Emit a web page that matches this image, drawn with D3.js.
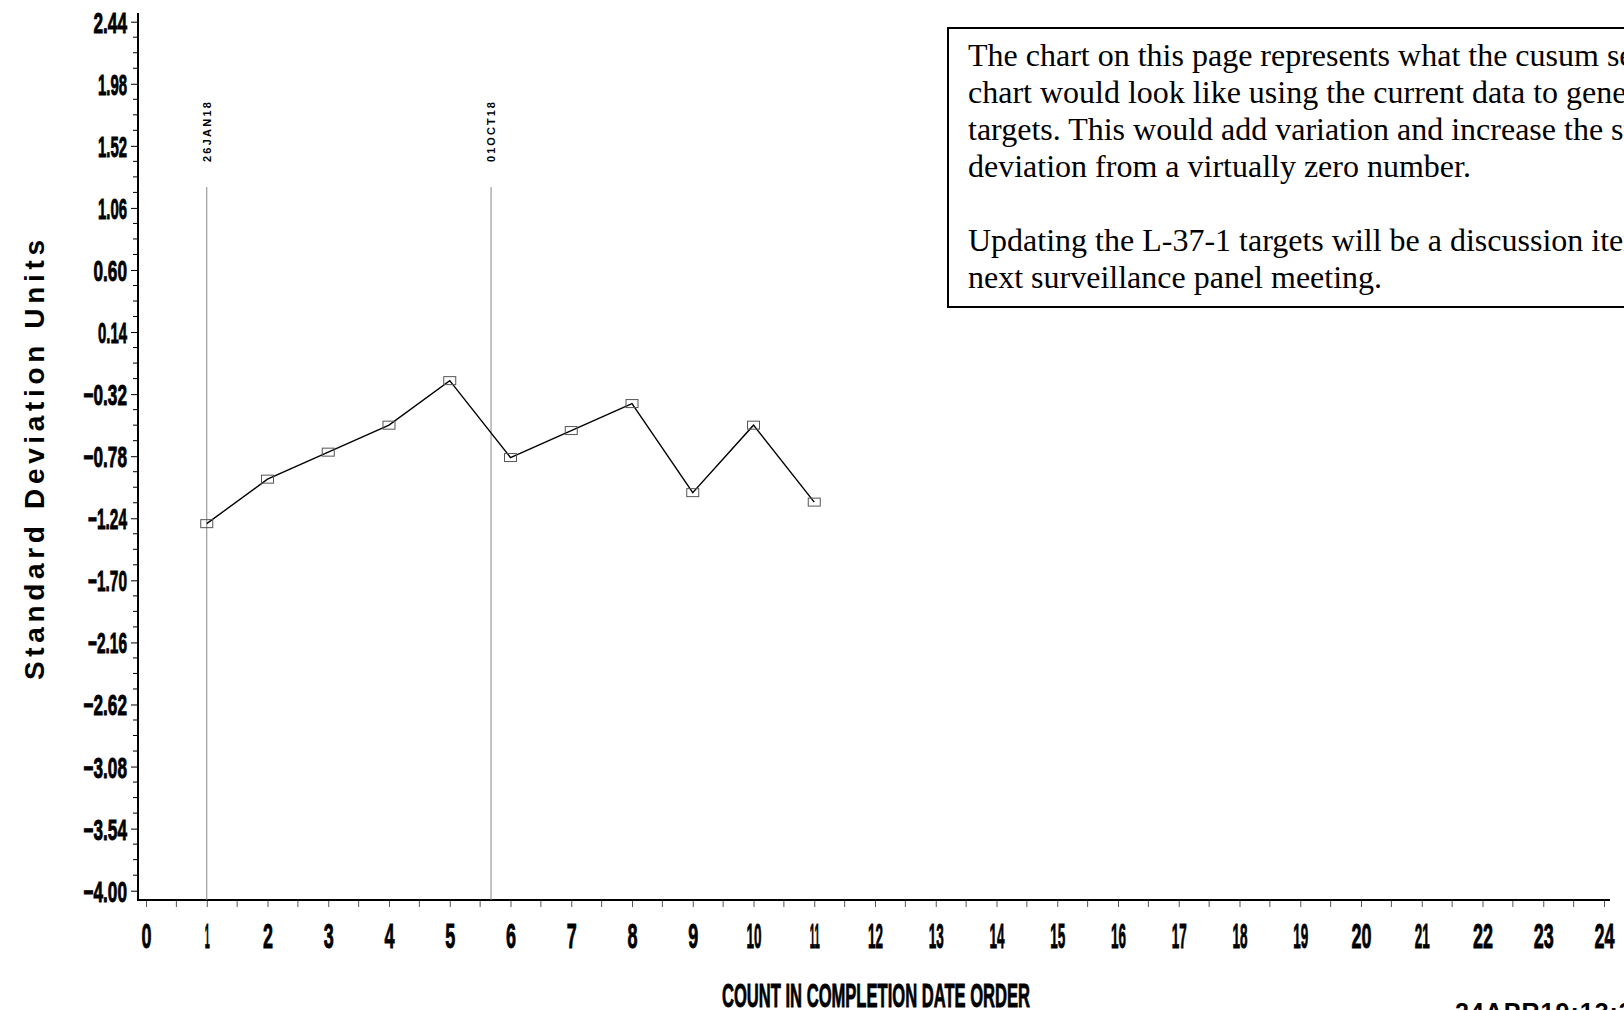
<!DOCTYPE html>
<html>
<head>
<meta charset="utf-8">
<script src="https://cdn.jsdelivr.net/npm/d3@7"></script>
<style>
  body { margin: 0; background: #fff; }
  svg { display: block; }
  .sans { font-family: "Liberation Sans", Arial, sans-serif; font-weight: bold; }
  .heavy { stroke: #000; stroke-width: 0.9; paint-order: stroke; }
  .serif { font-family: "Liberation Serif", "Times New Roman", serif; }
</style>
</head>
<body>
<div id="chart"></div>
<script>
// data
var counts = [1, 2, 3, 4, 5, 6, 7, 8, 9, 10, 11];
var sdUnits = [-1.28, -0.95, -0.75, -0.55, -0.22, -0.79, -0.59, -0.39, -1.05, -0.55, -1.12];

var yTicks = [2.44, 1.98, 1.52, 1.06, 0.60, 0.14, -0.32, -0.78, -1.24, -1.70, -2.16, -2.62, -3.08, -3.54, -4.00];
var xTicks = [0, 1, 2, 3, 4, 5, 6, 7, 8, 9, 10, 11, 12, 13, 14, 15, 16, 17, 18, 19, 20, 21, 22, 23, 24];

var refX = [1, 5.68];
var refLabels = ["26JAN18", "01OCT18"];

var noteLines = [
  "The chart on this page represents what the cusum severity",
  "chart would look like using the current data to generate",
  "targets. This would add variation and increase the standard",
  "deviation from a virtually zero number.",
  "",
  "Updating the L-37-1 targets will be a discussion item at the",
  "next surveillance panel meeting."
];

var width = 1624, height = 1010;

var x = d3.scaleLinear().domain([0, 24]).range([146, 1604]);
var y = d3.scaleLinear().domain([-4, 2.44]).range([890.7, 21.7]);

var svg = d3.select("#chart").append("svg")
  .attr("width", width)
  .attr("height", height);

// rough glyph widths for the squeezed SAS-style labels
function squeezeWidth(s, digit, one, dot, minus) {
  var w = 0;
  for (var i = 0; i < s.length; i++) {
    var c = s[i];
    if (c === "1") w += one;
    else if (c === ".") w += dot;
    else if (c === "-" || c === "\u2212") w += minus;
    else w += digit;
  }
  return w;
}

// y axis
var yAxis = d3.axisLeft(y)
  .tickValues(yTicks)
  .tickSize(7)
  .tickSizeOuter(0)
  .tickPadding(4)
  .tickFormat(d3.format(".2f"));

var gy = svg.append("g")
  .attr("transform", "translate(138,0)")
  .call(yAxis);
gy.select(".domain").remove();
gy.selectAll(".tick line").attr("stroke", "#000").attr("stroke-width", 1);
gy.selectAll(".tick text")
  .attr("class", "sans heavy")
  .attr("font-size", 29)
  .attr("fill", "#000")
  .attr("x", -11)
  .attr("dy", "0.36em")
  .attr("textLength", function (d) { return squeezeWidth(d3.format(".2f")(d), 10, 5.5, 3.5, 10); })
  .attr("lengthAdjust", "spacingAndGlyphs");

var yMinor = [];
for (var i = 0; i < yTicks.length - 1; i++) {
  var step = (yTicks[i] - yTicks[i + 1]) / 4;
  for (var k = 1; k < 4; k++) yMinor.push(yTicks[i] - k * step);
}
svg.append("g").selectAll("line")
  .data(yMinor)
  .enter()
  .append("line")
  .attr("x1", 133).attr("x2", 138)
  .attr("y1", function (d) { return y(d); })
  .attr("y2", function (d) { return y(d); })
  .attr("stroke", "#000");

svg.append("line")
  .attr("x1", 138).attr("x2", 138)
  .attr("y1", 13).attr("y2", 900)
  .attr("stroke", "#000").attr("stroke-width", 2);

// x axis
var xAxis = d3.axisBottom(x)
  .tickValues(xTicks)
  .tickSize(7)
  .tickSizeOuter(0)
  .tickPadding(4)
  .tickFormat(d3.format("d"));

var gx = svg.append("g")
  .attr("transform", "translate(0,900)")
  .call(xAxis);
gx.select(".domain").remove();
gx.selectAll(".tick line").attr("stroke", "#555");
gx.selectAll(".tick text")
  .attr("class", "sans heavy")
  .attr("font-size", 35)
  .attr("fill", "#000")
  .attr("y", 48)
  .attr("dy", 0)
  .attr("textLength", function (d) { return squeezeWidth(String(d), 10, 5, 3, 9); })
  .attr("lengthAdjust", "spacingAndGlyphs");

var xMinor = [];
for (var j = 0; j < xTicks.length - 1; j++) xMinor.push((xTicks[j] + xTicks[j + 1]) / 2);
svg.append("g").selectAll("line")
  .data(xMinor)
  .enter()
  .append("line")
  .attr("x1", function (d) { return x(d); })
  .attr("x2", function (d) { return x(d); })
  .attr("y1", 900).attr("y2", 907)
  .attr("stroke", "#555");

svg.append("line")
  .attr("x1", 137).attr("x2", 1610)
  .attr("y1", 900).attr("y2", 900)
  .attr("stroke", "#000").attr("stroke-width", 2);

// reference lines
svg.append("g").selectAll("line")
  .data(refX)
  .enter()
  .append("line")
  .attr("x1", function (d) { return x(d); })
  .attr("x2", function (d) { return x(d); })
  .attr("y1", 187).attr("y2", 900)
  .attr("stroke", "#888").attr("stroke-width", 1);

svg.append("g").selectAll("text")
  .data(refX)
  .enter()
  .append("text")
  .attr("class", "sans")
  .attr("font-size", 11)
  .attr("text-anchor", "middle")
  .attr("textLength", 60)
  .attr("lengthAdjust", "spacing")
  .attr("transform", function (d) { return "translate(" + (x(d) + 4) + ",132) rotate(-90)"; })
  .text(function (d, i) { return refLabels[i]; });

// data line + markers
var line = d3.line()
  .x(function (d, i) { return x(counts[i]); })
  .y(function (d) { return y(d); });

svg.append("path")
  .datum(sdUnits)
  .attr("fill", "none")
  .attr("stroke", "#000")
  .attr("stroke-width", 1.4)
  .attr("d", line);

svg.append("g").selectAll("rect")
  .data(sdUnits)
  .enter()
  .append("rect")
  .attr("x", function (d, i) { return x(counts[i]) - 6; })
  .attr("y", function (d) { return y(d) - 4; })
  .attr("width", 12)
  .attr("height", 8)
  .attr("fill", "none")
  .attr("stroke", "#555")
  .attr("stroke-width", 1);

// axis titles
svg.append("text")
  .attr("class", "sans")
  .attr("font-size", 28)
  .attr("text-anchor", "middle")
  .attr("textLength", 440)
  .attr("lengthAdjust", "spacing")
  .attr("transform", "translate(44,460) rotate(-90)")
  .text("Standard Deviation Units");

svg.append("text")
  .attr("class", "sans heavy")
  .attr("font-size", 34)
  .attr("text-anchor", "middle")
  .attr("x", 876)
  .attr("y", 1007)
  .attr("textLength", 308)
  .attr("lengthAdjust", "spacingAndGlyphs")
  .text("COUNT IN COMPLETION DATE ORDER");

svg.append("text")
  .attr("class", "sans")
  .attr("font-size", 25)
  .attr("x", 1455)
  .attr("y", 1021)
  .attr("letter-spacing", 1)
  .text("24APR19:13:39");

// note box
svg.append("rect")
  .attr("x", 948).attr("y", 28)
  .attr("width", 800).attr("height", 279)
  .attr("fill", "#fff")
  .attr("stroke", "#000")
  .attr("stroke-width", 2);

svg.append("g").selectAll("text")
  .data(noteLines)
  .enter()
  .append("text")
  .attr("class", "serif")
  .attr("font-size", 32)
  .attr("x", 968)
  .attr("y", function (d, i) { return 66 + i * 37; })
  .text(function (d) { return d; });
</script>
</body>
</html>
